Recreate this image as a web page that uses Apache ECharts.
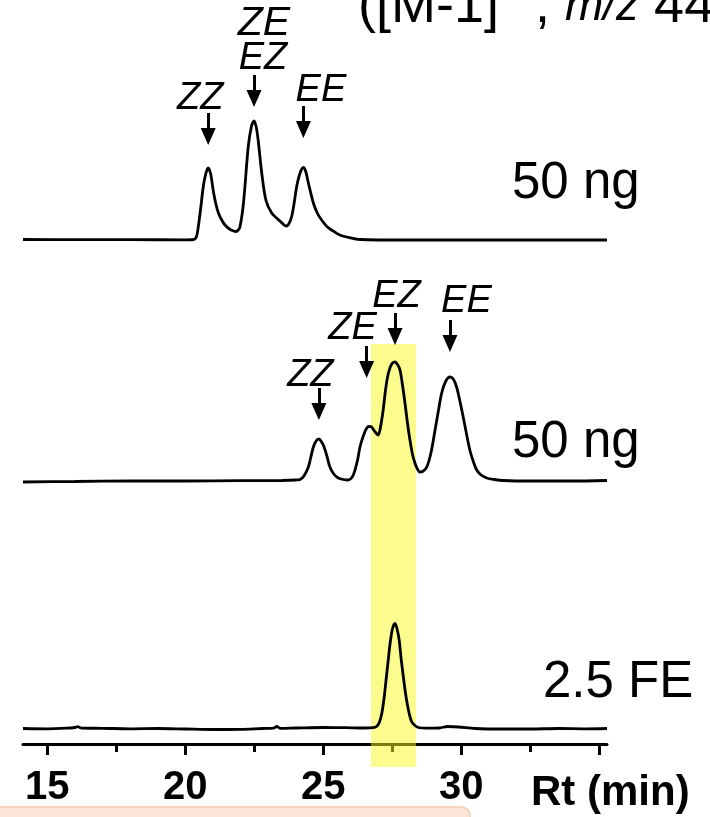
<!DOCTYPE html>
<html>
<head>
<meta charset="utf-8">
<script src="https://cdn.jsdelivr.net/npm/echarts@6/dist/echarts.min.js"></script>
<style>
  html, body { margin: 0; padding: 0; background: #fff; }
  #main { width: 710px; height: 817px; }
</style>
</head>
<body>
<div id="main"></div>
<script>
// 时间轴范围 (min)
const rtMin = 14.12, rtMax = 35.28;
const majorTicks = [15, 20, 25, 30, 35];
const minorTicks = [17.5, 22.5, 27.5, 32.5];
const tickLabels = [15, 20, 25, 30];

// 色谱 1 : 标准品 50 ng
const trace1Rt  = [14.12, 16, 18, 20, 20.3, 20.4, 20.47, 20.56, 20.65, 20.74, 20.83, 20.92, 21.01, 21.1, 21.2, 21.32, 21.44, 21.6, 21.75, 21.84, 21.92, 21.98, 22.08, 22.16, 22.28, 22.4, 22.49, 22.57, 22.64, 22.77, 22.92, 23.13, 23.43, 23.58, 23.65, 23.75, 23.86, 23.95, 24.04, 24.16, 24.28, 24.37, 24.46, 24.64, 24.8, 24.94, 25.15, 25.36, 25.6, 25.85, 26.33, 28, 30, 32, 34, 35.28];
const trace1Int = [0.5, 0.3, 0.3, 0.2, 0.5, 3, 13, 32, 53, 66, 72, 66, 50, 37, 27, 20, 15, 11, 9, 8.5, 10, 13, 30, 53, 93, 114, 119, 113, 100, 67, 40, 27, 19, 15, 14, 16, 24, 38, 54, 67, 72.5, 68, 57, 37, 26, 20, 13, 9, 5, 3, 0.5, 0, 0, 0, 0, 0];

// 色谱 2 : 标准品 50 ng (另一色谱柱)
const trace2Rt  = [14.12, 16, 18, 20, 22, 23.5, 24.0, 24.16, 24.3, 24.46, 24.55, 24.64, 24.74, 24.84, 24.94, 25.03, 25.14, 25.24, 25.38, 25.54, 25.72, 25.91, 26.05, 26.15, 26.25, 26.33, 26.45, 26.57, 26.66, 26.75, 26.88, 26.99, 27.08, 27.17, 27.26, 27.36, 27.48, 27.60, 27.70, 27.78, 27.87, 27.96, 28.05, 28.14, 28.23, 28.32, 28.41, 28.50, 28.6, 28.75, 28.9, 29.05, 29.17, 29.29, 29.44, 29.59, 29.71, 29.83, 29.95, 30.07, 30.19, 30.31, 30.43, 30.56, 30.72, 30.92, 31.2, 31.52, 32.5, 34, 35.28];
const trace2Int = [-1, -0.5, 0, 0, 0.3, 0.5, 1, 1.5, 5, 14, 24, 34, 40, 42, 39, 34, 24, 14, 7, 3, 1.5, 1, 4, 11, 22, 34, 45, 52.7, 54.5, 54, 49, 46, 55, 71, 92, 108, 117, 119, 116, 111, 96, 78, 58, 41, 27, 18, 12, 9, 9.5, 14, 28, 51, 70, 88, 100, 104, 102, 94, 80, 64, 47, 31, 20, 11, 6, 3, 1.5, 0.5, 0, 0, 0.5];

// 色谱 3 : 2.5 FE 提取物
const trace3Rt  = [14.12, 15, 15.7, 16.0, 16.1, 16.25, 17, 18, 19, 20, 21, 22, 22.8, 23.2, 23.31, 23.45, 24, 25, 25.8, 26.5, 26.8, 26.93, 27.03, 27.12, 27.21, 27.30, 27.36, 27.42, 27.51, 27.60, 27.67, 27.75, 27.82, 27.90, 27.98, 28.06, 28.13, 28.20, 28.3, 28.44, 28.75, 29.2, 29.5, 29.9, 30.5, 31.5, 32.5, 33.5, 34.5, 35.28];
const trace3Int = [0, -0.3, 0.3, 1, 1.8, 0.4, 0.2, -0.3, 0, -0.5, -1, -0.8, 0, 0.3, 2, 0.2, 0.5, 1, 0.8, 0.5, 0.8, 2, 6, 15, 32, 55, 70, 85, 100, 105, 100, 88.5, 70, 52, 35, 22, 13, 7, 3.5, 1, 0.3, 0.5, 2, 1.5, 0, -0.5, -0.5, 0, -0.3, 0];

// 峰标注 (箭头位置 / 箭头尖端高度)
const arrows1Rt  = [20.83, 22.49, 24.28];
const arrows1Tip = [95, 133, 102];
const labels1    = ['ZZ', 'EZ', 'ZE', 'EE'];
const labels1Rt  = [20.83, 22.49, 22.49, 24.28];
const labels1H   = [141.7, 181.7, 216, 149.2];
const labels1Dx  = [-8, 9, 10, 17.5];
const labels1Fs  = [38, 38, 41, 38];

const arrows2Rt  = [24.84, 26.57, 27.60, 29.59];
const arrows2Tip = [61, 103, 136, 129];
const labels2    = ['ZZ', 'ZE', 'EZ', 'EE'];
const labels2Rt  = [24.84, 26.57, 27.60, 29.59];
const labels2H   = [106, 152.7, 184.5, 179.5];
const labels2Dx  = [-8.5, -14, 1.5, 16.5];
const labels2Fs  = [38, 38, 38, 38];

// 黄色高亮区
const bandStart = 26.73, bandEnd = 28.36;

const FONT = '"Liberation Sans", Arial, sans-serif';
const arrowLen = 32, headLen = 17;

function pairs(xs, ys) {
    return xs.map((x, i) => [x, ys[i]]);
}

// 箭头 markLine
function arrowLines(rts, tips) {
    return rts.map((rt, i) => [
        { coord: [rt, tips[i] + arrowLen] },
        { coord: [rt, tips[i] + headLen / 2] }
    ]);
}

// 文字 markPoint
function labelPoints(names, rts, hs, dxs, fss) {
    return names.map((n, i) => ({
        name: n,
        coord: [rts[i], hs[i]],
        label: { offset: [dxs[i], 0], fontSize: fss[i] }
    }));
}

function traceSeries(idx, data, arrows, labels) {
    let s = {
        type: 'line',
        xAxisIndex: idx,
        yAxisIndex: idx,
        data: data,
        showSymbol: false,
        smooth: 0.3,
        lineStyle: { color: '#000', width: 2.8 },
        z: 2,
        silent: true
    };
    if (arrows) {
        s.markLine = {
            silent: true,
            symbol: ['none', 'triangle'],
            symbolSize: [15, headLen],
            label: { show: false },
            lineStyle: { color: '#000', width: 3, type: 'solid' },
            data: arrows
        };
    }
    if (labels) {
        s.markPoint = {
            silent: true,
            symbol: 'circle',
            symbolSize: 1,
            itemStyle: { color: 'rgba(0,0,0,0)' },
            label: {
                show: true,
                position: 'inside',
                formatter: '{b}',
                color: '#000',
                fontStyle: 'italic',
                fontFamily: FONT
            },
            data: labels
        };
    }
    return s;
}

const hiddenX = (g) => ({ type: 'value', gridIndex: g, min: rtMin, max: rtMax, show: false });

let chart = echarts.init(document.getElementById('main'), null, { renderer: 'canvas' });

let option = {
    animation: false,
    backgroundColor: '#fff',
    grid: [
        { left: 23, width: 584, top: 0, height: 250 },
        { left: 23, width: 584, top: 260, height: 231 },
        { left: 23, width: 584, top: 598.5, height: 145.5 },
        { left: 23, width: 584, top: 344, height: 423 }
    ],
    xAxis: [
        hiddenX(0),
        hiddenX(1),
        {
            type: 'value', gridIndex: 2, min: rtMin, max: rtMax, position: 'bottom',
            axisLine: { show: true, onZero: false, lineStyle: { color: '#000', width: 3 } },
            axisTick: { show: true, inside: false, length: 11, customValues: majorTicks,
                lineStyle: { color: '#000', width: 3 } },
            axisLabel: { show: true, customValues: tickLabels, margin: 23.5,
                color: '#000', fontSize: 40, fontWeight: 'bold', fontFamily: FONT },
            splitLine: { show: false }
        },
        {
            type: 'value', gridIndex: 2, min: rtMin, max: rtMax, position: 'bottom',
            axisLine: { show: false, onZero: false },
            axisTick: { show: true, inside: false, length: 8, customValues: minorTicks,
                lineStyle: { color: '#000', width: 3 } },
            axisLabel: { show: false },
            splitLine: { show: false }
        },
        hiddenX(3)
    ],
    yAxis: [
        { type: 'value', gridIndex: 0, min: -10, max: 240, show: false },
        { type: 'value', gridIndex: 1, min: -10, max: 221, show: false },
        { type: 'value', gridIndex: 2, min: -15.5, max: 130, show: false },
        { type: 'value', gridIndex: 3, min: 0, max: 1, show: false }
    ],
    series: [
        traceSeries(0, pairs(trace1Rt, trace1Int), arrowLines(arrows1Rt, arrows1Tip),
            labelPoints(labels1, labels1Rt, labels1H, labels1Dx, labels1Fs)),
        traceSeries(1, pairs(trace2Rt, trace2Int), arrowLines(arrows2Rt, arrows2Tip),
            labelPoints(labels2, labels2Rt, labels2H, labels2Dx, labels2Fs)),
        traceSeries(2, pairs(trace3Rt, trace3Int)),
        {
            // 黄色高亮带
            type: 'line',
            xAxisIndex: 4,
            yAxisIndex: 3,
            data: [[bandStart, 0.5], [bandEnd, 0.5]],
            showSymbol: false,
            lineStyle: { opacity: 0 },
            silent: true,
            z: 10,
            markArea: {
                silent: true,
                itemStyle: { color: 'rgba(250,248,30,0.5)' },
                data: [[{ xAxis: bandStart }, { xAxis: bandEnd }]]
            }
        }
    ],
    graphic: [
        {
            type: 'text', left: 358, top: -31, z: 20,
            style: {
                text: '([M-1]{sup|−} , {it|m/z} 44',
                fontSize: 54, fontFamily: FONT, fill: '#000',
                rich: {
                    sup: { fontSize: 36, fontFamily: FONT, verticalAlign: 'top', padding: [0, 0, 40, 0] },
                    it: { fontSize: 46, fontFamily: FONT, fontStyle: 'italic' }
                }
            }
        },
        { type: 'text', x: 512, y: 184, z: 20,
          style: { text: '50 ng', fontSize: 51, fontFamily: FONT, fill: '#000', verticalAlign: 'middle' } },
        { type: 'text', x: 512, y: 443, z: 20,
          style: { text: '50 ng', fontSize: 51, fontFamily: FONT, fill: '#000', verticalAlign: 'middle' } },
        { type: 'text', x: 543, y: 683, z: 20,
          style: { text: '2.5 FE', fontSize: 51, fontFamily: FONT, fill: '#000', verticalAlign: 'middle' } },
        { type: 'text', x: 531, y: 793, z: 20,
          style: { text: 'Rt (min)', fontSize: 42, fontWeight: 'bold', fontFamily: FONT, fill: '#000', verticalAlign: 'middle' } },
        {
            type: 'rect', z: 1,
            shape: { x: -2, y: 807, width: 472, height: 16, r: [0, 9, 0, 0] },
            style: { fill: '#fde6d8', stroke: '#f7c9ae', lineWidth: 1.5 }
        }
    ]
};

chart.setOption(option);
</script>
</body>
</html>
